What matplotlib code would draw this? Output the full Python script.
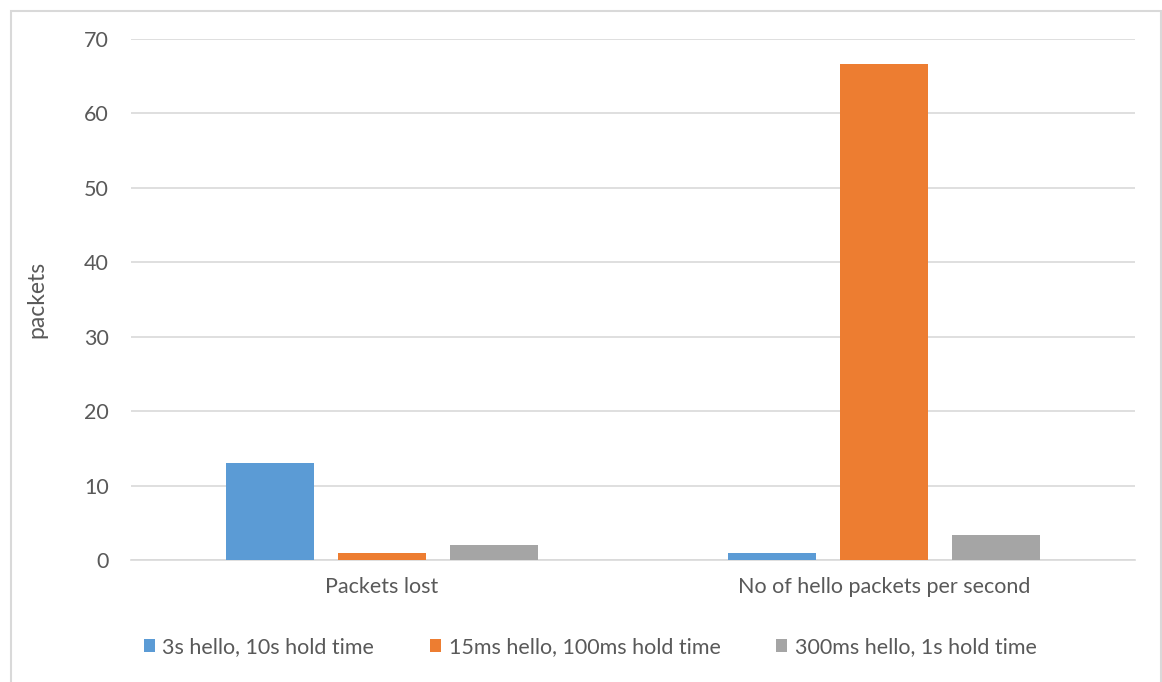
import matplotlib
matplotlib.use("Agg")
import matplotlib.pyplot as plt
from matplotlib.patches import Rectangle
import numpy as np

categories = ["Packets lost", "No of hello packets per second"]
series_names = ["3s hello, 10s hold time",
                "15ms hello, 100ms hold time",
                "300ms hello, 1s hold time"]
series_values = [
    [13, 1],
    [1, 66.67],
    [2, 3.33],
]
colors = ["#5B9BD5", "#ED7D31", "#A5A5A5"]
yticks = [0, 10, 20, 30, 40, 50, 60, 70]

plt.rcParams["font.family"] = ["Lato", "DejaVu Sans"]
text_color = "#595959"
grid_color = "#D9D9D9"

fig = plt.figure(figsize=(11.62, 6.82), dpi=100)
ax = fig.add_axes([0.1127, 0.1789, 0.8641, 0.7639])

x = np.arange(len(categories))
width = 0.175
step = 0.223
handles = []
for i, (name, vals, col) in enumerate(zip(series_names, series_values, colors)):
    h = ax.bar(x + (i - 1) * step, vals, width, color=col, label=name, zorder=3)
    handles.append(h)

ax.set_xlim(-0.5, len(categories) - 0.5)
ax.set_ylim(0, 70)
ax.set_yticks(yticks)
ax.set_xticks(x)
ax.set_xticklabels(categories)
ax.grid(axis="y", color=grid_color, linewidth=1.2, zorder=0)
for s in ["top", "right", "left"]:
    ax.spines[s].set_visible(False)
ax.spines["bottom"].set_color(grid_color)
ax.spines["bottom"].set_linewidth(1.2)
ax.tick_params(axis="both", length=0, colors=text_color, labelsize=15.5)
ax.tick_params(axis="y", pad=16)
ax.tick_params(axis="x", pad=12)
ax.set_ylabel("packets", color=text_color, fontsize=16.5, labelpad=26)

fig.legend(handles=handles, labels=series_names, loc="lower center",
           bbox_to_anchor=(0.508, 0.008), ncol=3, frameon=False,
           fontsize=15.5, labelcolor=text_color, handlelength=0.5,
           handleheight=0.5, handletextpad=0.35, columnspacing=2.6)

# outer chart frame
frame = Rectangle((11 / 1162, -0.05), (1161 - 11) / 1162, 1 - 11 / 682 + 0.05,
                  transform=fig.transFigure, fill=False,
                  edgecolor="#D9D9D9", linewidth=1.5)
fig.patches.append(frame)

fig.savefig("out.png", dpi=100, facecolor="white")
